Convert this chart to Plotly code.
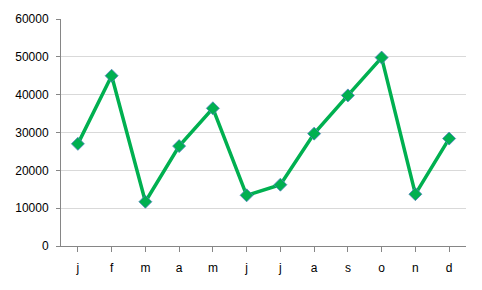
import plotly.graph_objects as go

months = ["j", "f", "m", "a", "m", "j", "j", "a", "s", "o", "n", "d"]
values = [27000, 45000, 11700, 26400, 36400, 13400, 16200, 29700, 39800, 49800, 13700, 28400]
y_ticks = [0, 10000, 20000, 30000, 40000, 50000, 60000]

x_idx = list(range(len(months)))

fig = go.Figure()
fig.add_trace(go.Scatter(
    x=x_idx, y=values, mode="lines+markers",
    line=dict(color="#00B050", width=3.5),
    marker=dict(symbol="diamond", size=10, color="#00B050",
                line=dict(color="#4F81BD", width=0.8)),
    showlegend=False,
))

fig.update_layout(
    width=482, height=290,
    margin=dict(l=61, r=16, t=16, b=44),
    paper_bgcolor="white", plot_bgcolor="white",
    font=dict(family="Liberation Sans, Arial, sans-serif", size=12, color="#000000"),
)
fig.update_xaxes(
    tickmode="array", tickvals=x_idx, ticktext=months,
    range=[-0.5, 11.5], tickson="boundaries",
    showline=True, linecolor="#868686", linewidth=1,
    ticks="outside", ticklen=5, tickcolor="#868686",
    showgrid=False, zeroline=False, ticklabelstandoff=6,
)
fig.update_yaxes(
    range=[0, 60000], tickvals=y_ticks, tickformat="d",
    showline=True, linecolor="#868686", linewidth=1,
    ticks="outside", ticklen=4, tickcolor="#868686",
    showgrid=True, gridcolor="#D9D9D9", gridwidth=1,
    zeroline=False, ticklabelstandoff=5,
)

fig.write_html("out.html")
